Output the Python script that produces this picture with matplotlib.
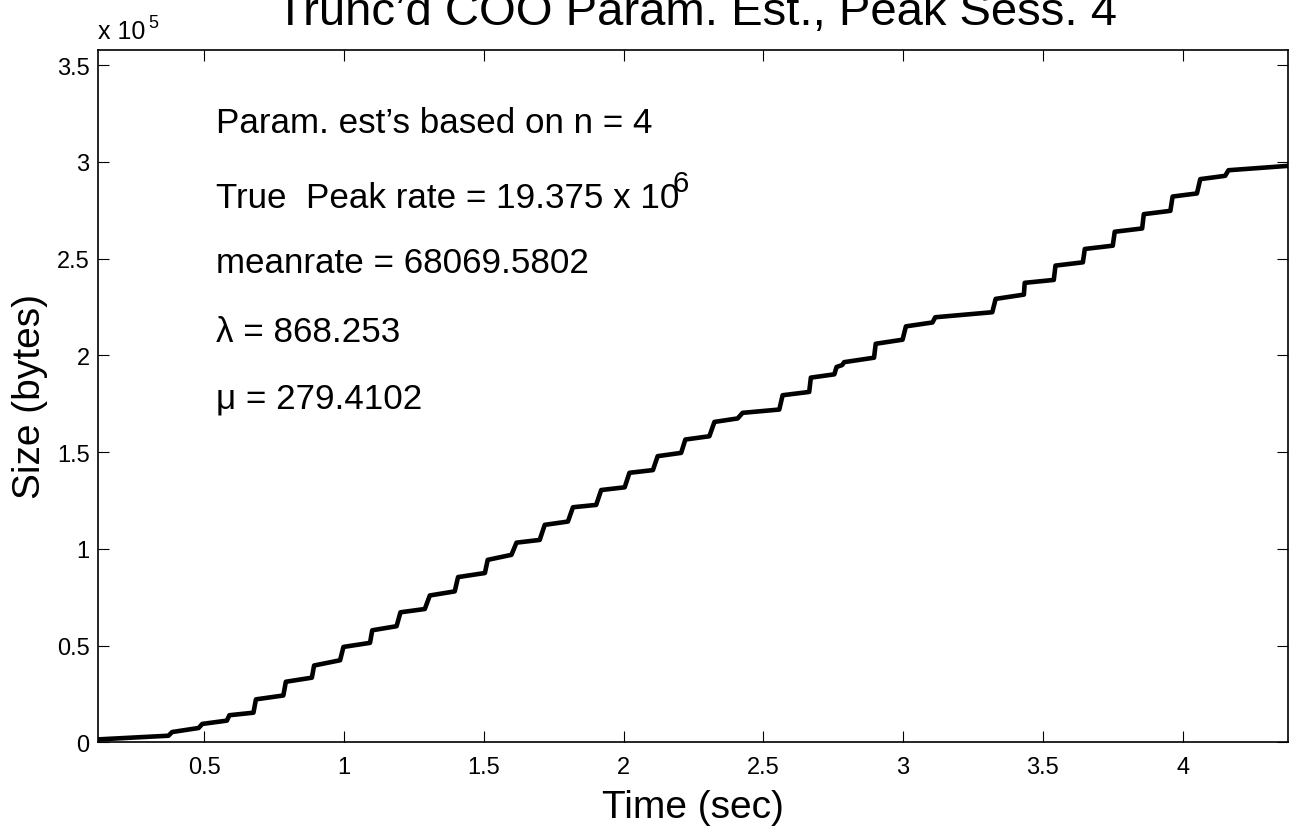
import matplotlib
matplotlib.use("Agg")
import matplotlib.pyplot as plt

plt.rcParams['font.family'] = ['Liberation Sans', 'DejaVu Sans']

# cumulative session size, corner points of the staircase (sec, bytes)
time_pts = [0.12, 0.372, 0.385, 0.480, 0.493, 0.581, 0.590, 0.676, 0.685,
            0.783, 0.792, 0.885, 0.893, 0.986, 0.998, 1.093, 1.101, 1.188,
            1.202, 1.289, 1.307, 1.396, 1.408, 1.504, 1.514, 1.599, 1.617,
            1.700, 1.718, 1.801, 1.819, 1.902, 1.920, 2.004, 2.021, 2.105,
            2.122, 2.206, 2.221, 2.307, 2.325, 2.408, 2.426, 2.557, 2.569,
            2.664, 2.670, 2.754, 2.762, 2.782, 2.789, 2.896, 2.902, 2.998,
            3.010, 3.105, 3.115, 3.319, 3.331, 3.432, 3.435, 3.539, 3.545,
            3.643, 3.650, 3.750, 3.757, 3.855, 3.861, 3.956, 3.964, 4.051,
            4.063, 4.152, 4.164, 4.40]
size_pts = [1500, 3400, 5300, 7400, 9500, 11200, 14000, 15300, 22200,
            24200, 31300, 33400, 39700, 42400, 49300, 51400, 57900, 60000,
            67200, 68900, 75900, 78000, 85400, 87500, 94300, 96900, 103200,
            104600, 112400, 114100, 121500, 122700, 130400, 131800, 139300, 140700,
            147900, 149600, 156500, 158200, 165600, 167400, 170300, 172000, 179400,
            181100, 188500, 190200, 194000, 195000, 196500, 198800, 206000, 208100,
            215000, 217000, 219700, 222300, 229200, 231400, 237500, 239000, 246400,
            248100, 255000, 256700, 263900, 265600, 273000, 274700, 282100, 283700,
            291100, 292800, 295700, 298200]

x_ticks = [0.5, 1, 1.5, 2, 2.5, 3, 3.5, 4]
x_labels = ['0.5', '1', '1.5', '2', '2.5', '3', '3.5', '4']
y_ticks = [0, 50000, 100000, 150000, 200000, 250000, 300000, 350000]
y_labels = ['0', '0.5', '1', '1.5', '2', '2.5', '3', '3.5']

info_lines = ["Param. est\u2019s based on n = 4",
              "True  Peak rate = 19.375 x 10",
              "meanrate = 68069.5802",
              "\u03bb = 868.253",
              "\u03bc = 279.4102"]
info_y = [315400, 276600, 243000, 207300, 173200]

W, H = 1290, 829
fig = plt.figure(figsize=(W / 100, H / 100), dpi=100)
ax = fig.add_axes([98 / W, 1 - 743.3 / H, (1287.5 - 98) / W, (743.3 - 50.7) / H])

ax.plot(time_pts, size_pts, color='black', linewidth=3.3,
        solid_joinstyle='round', solid_capstyle='butt')

ax.set_xlim(0.12, 4.375)
ax.set_ylim(0, 358000)
ax.set_xticks(x_ticks)
ax.set_xticklabels(x_labels)
ax.set_yticks(y_ticks)
ax.set_yticklabels(y_labels)
ax.tick_params(direction='in', length=8, width=0.8, labelsize=17,
               top=True, right=True)
ax.tick_params(axis='x', pad=10)
ax.tick_params(axis='y', pad=6)
for sp in ax.spines.values():
    sp.set_linewidth(1.2)

# title and axis labels, MATLAB style
fig.text(696 / W, 1 - 25 / H, "Trunc\u2019d COO Param. Est., Peak Sess. 4",
         ha='center', va='baseline', fontsize=34)
fig.text(693 / W, 1 - 817.7 / H, "Time (sec)", ha='center', va='baseline',
         fontsize=28)
fig.text(12 / W, 1 - 397 / H, "Size (bytes)", ha='left', va='center',
         rotation=90, fontsize=28)

# exponent marker
fig.text(98 / W, 1 - 39 / H, "x 10", ha='left', va='baseline', fontsize=18)
fig.text(148 / W, 1 - 28 / H, "5", ha='left', va='baseline', fontsize=13)

for txt, yv in zip(info_lines, info_y):
    ax.text(0.543, yv, txt, ha='left', va='baseline', fontsize=25.2)
ax.text(2.175, 285100, "6", ha='left', va='baseline', fontsize=21)

fig.savefig("out.png", dpi=100)
